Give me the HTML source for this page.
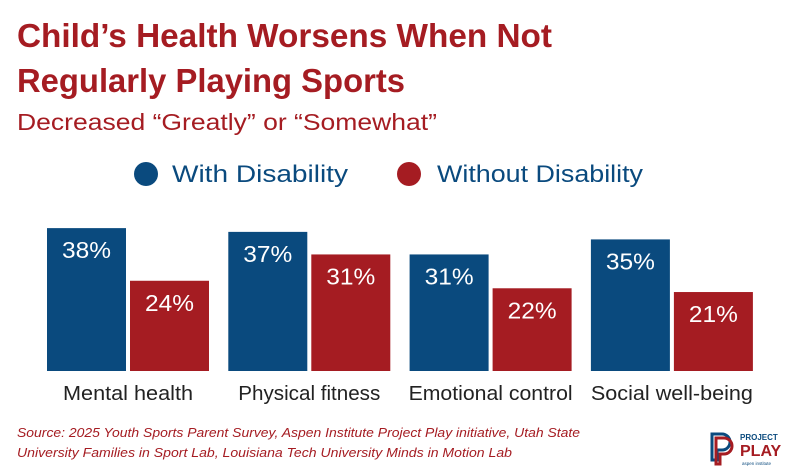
<!DOCTYPE html>
<html><head><meta charset="utf-8"><style>
body{margin:0;background:#fff;}
svg{display:block;font-family:"Liberation Sans",sans-serif;}
</style></head><body>
<svg width="803" height="476" viewBox="0 0 803 476">
<text x="17" y="47" font-size="33" font-weight="bold" fill="#a51c22" textLength="535" lengthAdjust="spacingAndGlyphs">Child’s Health Worsens When Not</text>
<text x="17" y="92" font-size="33" font-weight="bold" fill="#a51c22" textLength="388" lengthAdjust="spacingAndGlyphs">Regularly Playing Sports</text>
<text x="17" y="130" font-size="23" fill="#a51c22" textLength="420" lengthAdjust="spacingAndGlyphs">Decreased “Greatly” or “Somewhat”</text>
<g>
<circle cx="146" cy="174" r="12" fill="#0a4a7e"/>
<text x="172" y="182" font-size="24" fill="#0a4a7e" textLength="176" lengthAdjust="spacingAndGlyphs">With Disability</text>
<circle cx="409" cy="174" r="12" fill="#a51c22"/>
<text x="437" y="182" font-size="24" fill="#0a4a7e" textLength="206" lengthAdjust="spacingAndGlyphs">Without Disability</text>
</g>
<g id="bars"></g>
<text x="17" y="437" font-size="13" font-style="italic" fill="#a51c22" textLength="563" lengthAdjust="spacingAndGlyphs">Source: 2025 Youth Sports Parent Survey, Aspen Institute Project Play initiative, Utah State</text>
<text x="17" y="457" font-size="13" font-style="italic" fill="#a51c22" textLength="495" lengthAdjust="spacingAndGlyphs">University Families in Sport Lab, Louisiana Tech University Minds in Motion Lab</text>
<g>
<path d="M712 434 h10 a8 8 0 0 1 0 16 h-5 v10 h-5 z" fill="none" stroke="#0a4a7e" stroke-width="3"/>
<path d="M716 438 h8 a8 8 0 0 1 0 16 h-4 v10 h-4 z" fill="none" stroke="#a51c22" stroke-width="3"/>
<text x="740" y="440" font-size="8" font-weight="bold" fill="#0a4a7e">PROJECT</text>
<text x="740" y="456" font-size="16" font-weight="bold" fill="#a51c22">PLAY</text>
<text x="742" y="465" font-size="4.5" fill="#0a4a7e">aspen institute</text>
</g>
</svg>
<script>
const categories=["Mental health","Physical fitness","Emotional control","Social well-being"];
const withDisability=[38,37,31,35];
const withoutDisability=[24,31,22,21];
const labelWidths=[130,142,164,162];
const base=371, pxPer=3.76, barW=79, gap=4, x0=47, step=181.3;
const y=v=>base-v*pxPer;
const g=document.getElementById('bars');
const NS="http://www.w3.org/2000/svg";
function mk(t,a){const e=document.createElementNS(NS,t);for(const k in a)e.setAttribute(k,a[k]);g.appendChild(e);return e;}
categories.forEach((c,i)=>{
  const gx=x0+i*step;
  [[withDisability[i],"#0a4a7e",0,"with"],[withoutDisability[i],"#a51c22",barW+gap,"without"]].forEach(([v,col,off,s])=>{
    const r=mk('rect',{x:gx+off,y:y(v),width:barW,height:base-y(v),fill:col});
    
    
    const t=mk('text',{x:gx+off+barW/2,y:y(v)+30,'font-size':23,fill:'#fff','text-anchor':'middle',textLength:49,lengthAdjust:'spacingAndGlyphs'});
    t.textContent=v+'%';
    
    
  });
  const l=mk('text',{x:gx+barW+gap/2,y:400,'font-size':20,fill:'#222','text-anchor':'middle',textLength:labelWidths[i],lengthAdjust:'spacingAndGlyphs'});
  l.textContent=c;
  
  
});
</script>
</body></html>
